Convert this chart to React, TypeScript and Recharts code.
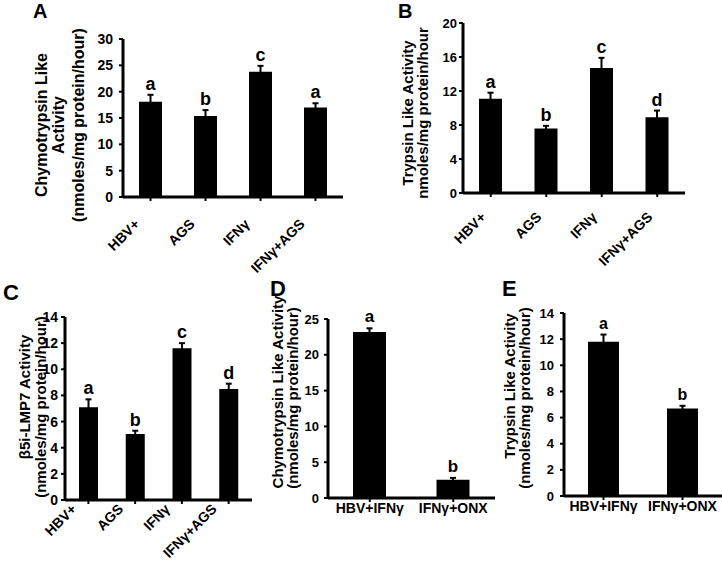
import React from "react";
import { BarChart, Bar, XAxis, YAxis, ErrorBar, LabelList } from "recharts";

const FONT = '"Liberation Sans", Arial, Helvetica, sans-serif';

// A - chymotrypsin like activity
const catsA = ["HBV+", "AGS", "IFNγ", "IFNγ+AGS"];
const meanA = [18.1, 15.4, 23.8, 17.0];
const errA = [1.3, 1.1, 1.1, 0.8];
const sigA = ["a", "b", "c", "a"];
const ticksA = [0, 5, 10, 15, 20, 25, 30];

// B - trypsin like activity
const catsB = ["HBV+", "AGS", "IFNγ", "IFNγ+AGS"];
const meanB = [11.1, 7.6, 14.7, 8.9];
const errB = [0.7, 0.3, 1.2, 0.8];
const sigB = ["a", "b", "c", "d"];
const ticksB = [0, 4, 8, 12, 16, 20];

// C - b5i-LMP7 activity
const catsC = ["HBV+", "AGS", "IFNγ", "IFNγ+AGS"];
const meanC = [7.1, 5.05, 11.6, 8.5];
const errC = [0.6, 0.25, 0.4, 0.4];
const sigC = ["a", "b", "c", "d"];
const ticksC = [0, 2, 4, 6, 8, 10, 12, 14];

// D - chymotrypsin, ONX
const catsD = ["HBV+IFNγ", "IFNγ+ONX"];
const meanD = [23.2, 2.56];
const errD = [0.5, 0.25];
const sigD = ["a", "b"];
const ticksD = [0, 5, 10, 15, 20, 25];

// E - trypsin, ONX
const catsE = ["HBV+IFNγ", "IFNγ+ONX"];
const meanE = [11.8, 6.7];
const errE = [0.55, 0.2];
const sigE = ["a", "b"];
const ticksE = [0, 2, 4, 6, 8, 10, 12, 14];

function Panel(p: any) {
  const data = p.cats.map((c: string, i: number) => ({
    name: c,
    mean: p.means[i],
    err: p.errs[i],
    sig: p.sig[i],
  }));
  const maxY = p.ticks[p.ticks.length - 1];

  const titles = () => (
    <g fontWeight="bold" fill="#000" fontFamily={FONT}>
      <text x={p.letterPos[0]} y={p.letterPos[1]} fontSize={p.letterFont}>
        {p.letter}
      </text>
      {p.yLines.map((t: string, i: number) => (
        <text
          key={i}
          x={p.yX[i]}
          y={p.yMid[i]}
          transform={`rotate(-90, ${p.yX[i]}, ${p.yMid[i]})`}
          textAnchor="middle"
          fontSize={p.yFont}
        >
          {t}
        </text>
      ))}
    </g>
  );

  const sigLabel = (props: any) => {
    const vb = props.viewBox || props;
    const h = Math.abs(vb.height);
    const top = Math.min(vb.y, vb.y + vb.height);
    const k = h / p.means[props.index];
    const ty = top - p.errs[props.index] * k - p.sigGap;
    return (
      <text
        x={vb.x + vb.width / 2}
        y={ty}
        textAnchor="middle"
        fontSize={p.sigFont}
        fontWeight="bold"
        fill="#000"
        fontFamily={FONT}
      >
        {p.sig[props.index]}
      </text>
    );
  };

  const rotTick = (props: any) => {
    const px = props.x + p.xdx;
    const py = props.y + p.xdy;
    return (
      <g>
        <g transform={`translate(${px},${py}) rotate(-45)`}>
          <text
            x={0}
            y={0}
            textAnchor="end"
            fontSize={p.xFont}
            fontWeight="bold"
            fill="#000"
            fontFamily={FONT}
          >
            {props.payload.value}
          </text>
        </g>
      </g>
    );
  };

  return (
    <div style={{ position: "absolute", left: p.left, top: p.top }}>
      <BarChart width={p.width} height={p.height} data={data} margin={p.margin}>
        <XAxis
          dataKey="name"
          height={p.xHeight}
          interval={0}
          axisLine={{ stroke: "#000", strokeWidth: 3 }}
          tickLine={{ stroke: "#000", strokeWidth: 2 }}
          tickSize={4}
          tickMargin={1}
          tick={
            p.rotate
              ? rotTick
              : { fontSize: p.xFont, fontWeight: "bold", fill: "#000", fontFamily: FONT }
          }
        />
        <YAxis
          width={p.yWidth}
          domain={[0, maxY]}
          ticks={p.ticks}
          interval={0}
          axisLine={{ stroke: "#000", strokeWidth: 3 }}
          tickLine={{ stroke: "#000", strokeWidth: 2 }}
          tickSize={4}
          tickMargin={p.tickMargin}
          tick={{ fontSize: p.tickFont, fontWeight: "bold", fill: "#000", fontFamily: FONT }}
          label={titles}
        />
        <Bar dataKey="mean" fill="#000" barSize={p.barSize} isAnimationActive={false}>
          <ErrorBar dataKey="err" direction="y" width={3} strokeWidth={2} stroke="#000" />
          <LabelList dataKey="sig" content={sigLabel} />
        </Bar>
      </BarChart>
    </div>
  );
}

export default function App() {
  return (
    <div
      style={{
        position: "absolute",
        left: 0,
        top: 0,
        width: 722,
        height: 575,
        background: "#fff",
        fontFamily: FONT,
      }}
    >
      <Panel
        letter="A"
        letterPos={[33, 18]}
        letterFont={20}
        cats={catsA}
        means={meanA}
        errs={errA}
        sig={sigA}
        ticks={ticksA}
        left={0}
        top={0}
        width={361}
        height={290}
        margin={{ top: 39, right: 18, bottom: 33, left: 63 }}
        xHeight={60}
        yWidth={60}
        barSize={23}
        tickFont={14}
        tickMargin={6}
        yLines={["Chymotrypsin Like", "Activity", "(nmoles/mg protein/hour)"]}
        yX={[47, 64, 84]}
        yMid={[125, 125, 125]}
        yFont={16}
        rotate
        xdx={-10}
        xdy={23}
        xFont={14}
        sigFont={18}
        sigGap={5}
      />
      <Panel
        letter="B"
        letterPos={[37, 18]}
        letterFont={20}
        cats={catsB}
        means={meanB}
        errs={errB}
        sig={sigB}
        ticks={ticksB}
        left={361}
        top={0}
        width={361}
        height={290}
        margin={{ top: 23, right: 37, bottom: 37, left: 62 }}
        xHeight={60}
        yWidth={40}
        barSize={23}
        tickFont={13}
        tickMargin={2}
        yLines={["Trypsin Like Activity", "nmoles/mg protein/hour"]}
        yX={[52, 67]}
        yMid={[113, 113]}
        yFont={15}
        rotate
        xdx={-4}
        xdy={20}
        xFont={14}
        sigFont={18}
        sigGap={5}
      />
      <Panel
        letter="C"
        letterPos={[3, 20]}
        letterFont={22}
        cats={catsC}
        means={meanC}
        errs={errC}
        sig={sigC}
        ticks={ticksC}
        left={0}
        top={280}
        width={260}
        height={295}
        margin={{ top: 37, right: 8, bottom: 15, left: 39 }}
        xHeight={60}
        yWidth={26}
        barSize={19}
        tickFont={14}
        tickMargin={3}
        yLines={["β5i-LMP7 Activity", "(nmoles/mg protein/hour)"]}
        yX={[30, 46]}
        yMid={[117, 127]}
        yFont={15}
        rotate
        xdx={-11}
        xdy={5}
        xFont={14}
        sigFont={18}
        sigGap={5}
      />
      <Panel
        letter="D"
        letterPos={[35, 26]}
        letterFont={22}
        cats={catsD}
        means={meanD}
        errs={errD}
        sig={sigD}
        ticks={ticksD}
        left={235}
        top={270}
        width={265}
        height={305}
        margin={{ top: 49, right: 5, bottom: 37, left: 63 }}
        xHeight={40}
        yWidth={30}
        barSize={33}
        tickFont={13}
        tickMargin={5}
        yLines={["Chymotrypsin Like Activity", "(nmoles/mg protein/hour)"]}
        yX={[48, 63]}
        yMid={[122, 128]}
        yFont={15}
        rotate={false}
        xFont={14}
        sigFont={17}
        sigGap={6}
      />
      <Panel
        letter="E"
        letterPos={[32, 26]}
        letterFont={22}
        cats={catsE}
        means={meanE}
        errs={errE}
        sig={sigE}
        ticks={ticksE}
        left={470}
        top={270}
        width={252}
        height={305}
        margin={{ top: 43, right: 0, bottom: 39, left: 64 }}
        xHeight={40}
        yWidth={30}
        barSize={31}
        tickFont={13}
        tickMargin={6}
        yLines={["Trypsin Like Activity", "(nmoles/mg protein/hour)"]}
        yX={[45, 60]}
        yMid={[116, 128]}
        yFont={15}
        rotate={false}
        xFont={14}
        sigFont={16}
        sigGap={6}
      />
    </div>
  );
}
